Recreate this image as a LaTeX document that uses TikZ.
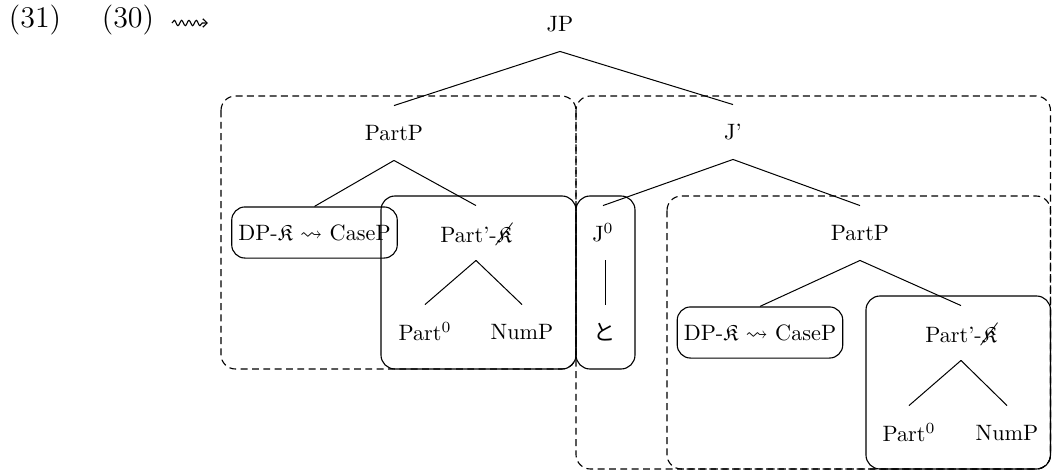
\documentclass[tikz,border=0pt]{standalone}
\usepackage{fontspec}
\usepackage{amssymb}
\usepackage{cancel}
\newfontfamily\cjkfont{Noto Sans CJK JP}
\usetikzlibrary{decorations.pathmorphing,arrows.meta}
\newcommand{\Kf}{\ensuremath{\mathfrak{K}}}
\newcommand{\Kx}{\ensuremath{\cancel{\mathfrak{K}}}}
\tikzset{
  tn/.style={inner sep=0pt, minimum height=24.3pt, font=\fontsize{10}{12}\selectfont},
  big/.style={inner sep=0pt, font=\fontsize{13.5}{16}\selectfont},
  dpbox/.style={draw, line width=0.5pt, rounded corners=6pt, inner sep=0pt,
    minimum width=74.5pt, minimum height=23pt, font=\fontsize{10}{12}\selectfont},
  solidbox/.style={draw, line width=0.5pt, rounded corners=6.3pt},
  dashbox/.style={draw, line width=0.5pt, rounded corners=6.5pt, dash pattern=on 3.1pt off 2pt},
  edge/.style={line width=0.45pt},
  squig/.style={line width=0.5pt, decorate,
    decoration={snake, amplitude=1.2pt, segment length=3.3pt, post length=2.2pt},
    -{Straight Barb[length=2pt,width=3.8pt]}}
}
\begin{document}
\begin{tikzpicture}[x=0.45pt,y=-0.45pt]
\useasboundingbox (0,0) rectangle (1053,470);
% regions
\draw[dashbox] (221,96) rectangle (576,369);
\draw[dashbox] (576,96) rectangle (1050.5,469);
\draw[dashbox] (667,196) rectangle (1050.5,469);
\draw[solidbox] (381,196) rectangle (576,369);
\draw[solidbox] (576,196) rectangle (635,369);
\draw[solidbox] (866,296) rectangle (1050.5,469);
% example labels
\node[big] (n31) at (35,20) {(31)};
\node[big] (n30) at (128,20) {(30)};
\coordinate (sqA) at (172,23);
\coordinate (sqB) at (208,23);
\draw[squig] (sqA) -- (sqB);
% tree nodes
\node[tn] (jp) at (560,24) {JP};
\node[tn] (ppL) at (394,133) {PartP};
\node[tn] (jbar) at (733,132) {J’};
\node[dpbox] (dpL) at (314.5,232.5) {DP-\Kf{} $\leadsto$ CaseP};
\node[tn] (pbL) at (476,233) {Part’-\Kx};
\node[tn] (p0L) at (425,332) {Part$^0$};
\node[tn] (numL) at (522,332) {NumP};
\node[tn] (j0) at (603,233) {J$^0$};
\node[tn] (to) at (605,332) {\cjkfont と};
\node[tn] (ppR) at (860,233) {PartP};
\node[dpbox] (dpR) at (760,332.5) {DP-\Kf{} $\leadsto$ CaseP};
\node[tn] (pbR) at (961,333) {Part’-\Kx};
\node[tn] (p0R) at (909,433) {Part$^0$};
\node[tn] (numR) at (1007,433) {NumP};
% edges
\draw[edge] (jp.south) -- (ppL.north);
\draw[edge] (jp.south) -- (jbar.north);
\draw[edge] (ppL.south) -- (dpL.north);
\draw[edge] (ppL.south) -- (pbL.north);
\draw[edge] (pbL.south) -- (p0L.north);
\draw[edge] (pbL.south) -- (numL.north);
\draw[edge] (jbar.south) -- (j0.north);
\draw[edge] (jbar.south) -- (ppR.north);
\draw[edge] (to.north |- j0.south) -- (to.north);
\draw[edge] (ppR.south) -- (dpR.north);
\draw[edge] (ppR.south) -- (pbR.north);
\draw[edge] (pbR.south) -- (p0R.north);
\draw[edge] (pbR.south) -- (numR.north);
\end{tikzpicture}
\end{document}
